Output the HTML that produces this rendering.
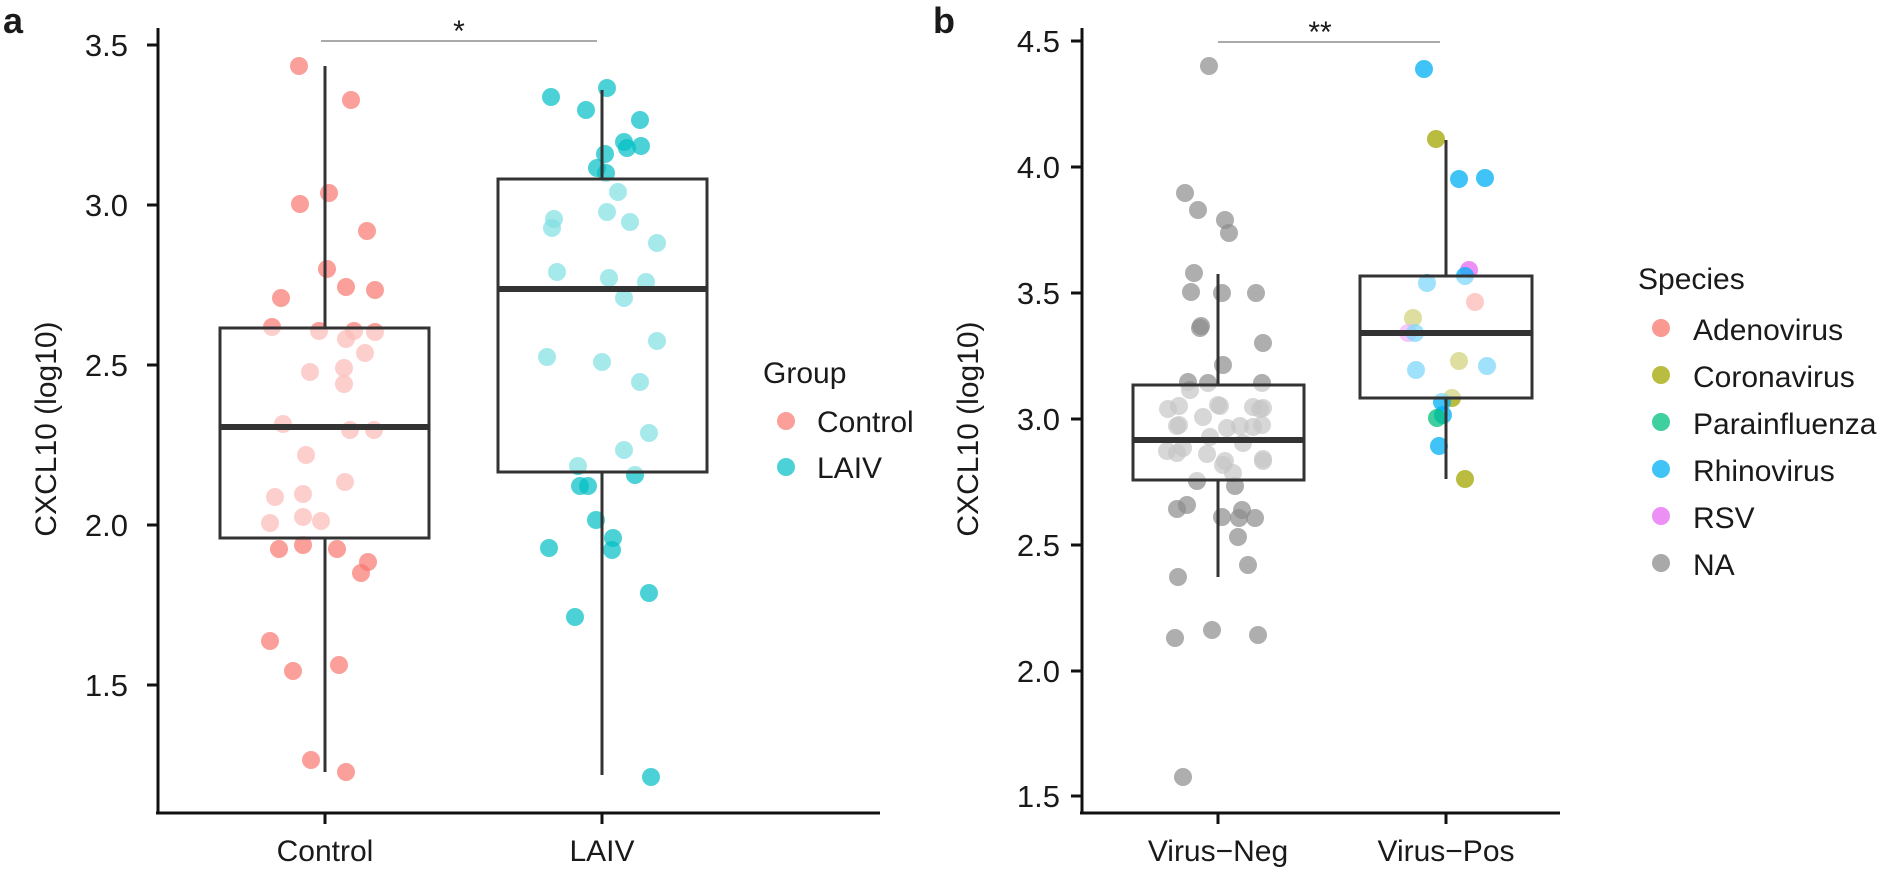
<!DOCTYPE html>
<html><head><meta charset="utf-8"><style>
html,body{margin:0;padding:0;background:#fff}
svg{display:block}
text{font-family:"Liberation Sans",Arial,sans-serif;fill:#1a1a1a}
</style></head><body>
<svg width="1897" height="878" viewBox="0 0 1897 878" xmlns="http://www.w3.org/2000/svg">
<!-- Panel a -->
<text x="3" y="33" font-size="36" font-weight="bold">a</text>
<g fill="#F8766D" fill-opacity="0.7">
<circle cx="299" cy="66" r="9"/><circle cx="351" cy="100" r="9"/><circle cx="329" cy="193" r="9"/><circle cx="300" cy="204" r="9"/><circle cx="367" cy="231" r="9"/><circle cx="327" cy="269" r="9"/><circle cx="346" cy="287" r="9"/><circle cx="375" cy="290" r="9"/><circle cx="281" cy="298" r="9"/><circle cx="272" cy="327" r="9"/><circle cx="319" cy="331" r="9"/><circle cx="354" cy="331" r="9"/><circle cx="375" cy="332" r="9"/><circle cx="346" cy="339" r="9"/><circle cx="365" cy="353" r="9"/><circle cx="310" cy="372" r="9"/><circle cx="344" cy="368" r="9"/><circle cx="344" cy="384" r="9"/><circle cx="283" cy="424" r="9"/><circle cx="350" cy="430" r="9"/><circle cx="374" cy="430" r="9"/><circle cx="306" cy="455" r="9"/><circle cx="345" cy="482" r="9"/><circle cx="275" cy="497" r="9"/><circle cx="303" cy="494" r="9"/><circle cx="303" cy="517" r="9"/><circle cx="270" cy="523" r="9"/><circle cx="321" cy="521" r="9"/><circle cx="279" cy="549" r="9"/><circle cx="303" cy="545" r="9"/><circle cx="337" cy="549" r="9"/><circle cx="368" cy="562" r="9"/><circle cx="361" cy="573" r="9"/><circle cx="270" cy="641" r="9"/><circle cx="293" cy="671" r="9"/><circle cx="339" cy="665" r="9"/><circle cx="311" cy="760" r="9"/><circle cx="346" cy="772" r="9"/>
</g>
<g fill="#00BFC4" fill-opacity="0.7">
<circle cx="551" cy="97" r="9"/><circle cx="607" cy="88" r="9"/><circle cx="586" cy="110" r="9"/><circle cx="640" cy="120" r="9"/><circle cx="624" cy="142" r="9"/><circle cx="627" cy="148" r="9"/><circle cx="641" cy="146" r="9"/><circle cx="605" cy="154" r="9"/><circle cx="597" cy="168" r="9"/><circle cx="606" cy="173" r="9"/><circle cx="618" cy="192" r="9"/><circle cx="607" cy="212" r="9"/><circle cx="554" cy="219" r="9"/><circle cx="552" cy="228" r="9"/><circle cx="630" cy="222" r="9"/><circle cx="657" cy="243" r="9"/><circle cx="557" cy="272" r="9"/><circle cx="609" cy="278" r="9"/><circle cx="646" cy="282" r="9"/><circle cx="624" cy="298" r="9"/><circle cx="657" cy="341" r="9"/><circle cx="547" cy="357" r="9"/><circle cx="602" cy="362" r="9"/><circle cx="640" cy="382" r="9"/><circle cx="649" cy="433" r="9"/><circle cx="624" cy="450" r="9"/><circle cx="578" cy="466" r="9"/><circle cx="635" cy="475" r="9"/><circle cx="580" cy="486" r="9"/><circle cx="588" cy="486" r="9"/><circle cx="596" cy="520" r="9"/><circle cx="613" cy="538" r="9"/><circle cx="612" cy="550" r="9"/><circle cx="549" cy="548" r="9"/><circle cx="649" cy="593" r="9"/><circle cx="575" cy="617" r="9"/><circle cx="651" cy="777" r="9"/>
</g>
<g stroke="#333" stroke-width="3" fill="#fff" fill-opacity="0.5">
<line x1="325" y1="66" x2="325" y2="328"/><line x1="325" y1="538" x2="325" y2="772"/>
<rect x="220" y="328" width="209" height="210"/>
<line x1="602" y1="90" x2="602" y2="179"/><line x1="602" y1="472" x2="602" y2="775"/>
<rect x="498" y="179" width="209" height="293"/>
</g>
<line x1="220" y1="427" x2="429" y2="427" stroke="#333" stroke-width="6"/>
<line x1="498" y1="289" x2="707" y2="289" stroke="#333" stroke-width="6"/>
<line x1="321" y1="41" x2="597" y2="41" stroke="#777" stroke-width="1.2"/>
<text x="459" y="41" font-size="30" text-anchor="middle">*</text>
<g stroke="#111" stroke-width="3">
<line x1="158" y1="28" x2="158" y2="814"/><line x1="156" y1="813" x2="880" y2="813"/>
<line x1="147" y1="45" x2="158" y2="45"/><line x1="147" y1="205" x2="158" y2="205"/><line x1="147" y1="365" x2="158" y2="365"/><line x1="147" y1="525" x2="158" y2="525"/><line x1="147" y1="685" x2="158" y2="685"/>
<line x1="325" y1="813" x2="325" y2="824"/><line x1="602" y1="813" x2="602" y2="824"/>
</g>
<g font-size="31" text-anchor="end">
<text x="128" y="56">3.5</text><text x="128" y="216">3.0</text><text x="128" y="376">2.5</text><text x="128" y="536">2.0</text><text x="128" y="696">1.5</text>
</g>
<g font-size="30" text-anchor="middle">
<text x="325" y="861">Control</text><text x="602" y="861">LAIV</text>
</g>
<text transform="translate(56,429) rotate(-90)" font-size="30" text-anchor="middle">CXCL10 (log10)</text>
<text x="763" y="383" font-size="30">Group</text>
<circle cx="786" cy="421" r="9" fill="#F8766D" fill-opacity="0.7"/><text x="817" y="432" font-size="30">Control</text>
<circle cx="786" cy="467" r="9" fill="#00BFC4" fill-opacity="0.7"/><text x="817" y="478" font-size="30">LAIV</text>

<!-- Panel b -->
<text x="933" y="33" font-size="36" font-weight="bold">b</text>
<g fill="#8c8c8c" fill-opacity="0.7">
<circle cx="1209" cy="66" r="9"/><circle cx="1185" cy="193" r="9"/><circle cx="1198" cy="210" r="9"/><circle cx="1225" cy="220" r="9"/><circle cx="1229" cy="233" r="9"/><circle cx="1194" cy="273" r="9"/><circle cx="1191" cy="292" r="9"/><circle cx="1222" cy="293" r="9"/><circle cx="1256" cy="293" r="9"/><circle cx="1200" cy="328" r="9"/><circle cx="1201" cy="326" r="9"/><circle cx="1263" cy="343" r="9"/><circle cx="1223" cy="365" r="9"/><circle cx="1188" cy="382" r="9"/><circle cx="1208" cy="383" r="9"/><circle cx="1262" cy="383" r="9"/>
<circle cx="1179" cy="406" r="9"/><circle cx="1190" cy="390" r="9"/><circle cx="1218" cy="405" r="9"/><circle cx="1253" cy="407" r="9"/><circle cx="1263" cy="408" r="9"/><circle cx="1203" cy="417" r="9"/><circle cx="1179" cy="425" r="9"/><circle cx="1227" cy="428" r="9"/><circle cx="1253" cy="427" r="9"/><circle cx="1262" cy="425" r="9"/>
<circle cx="1168" cy="409" r="9"/><circle cx="1177" cy="426" r="9"/><circle cx="1220" cy="406" r="9"/><circle cx="1240" cy="426" r="9"/><circle cx="1260" cy="409" r="9"/><circle cx="1183" cy="448" r="9"/><circle cx="1207" cy="454" r="9"/><circle cx="1223" cy="465" r="9"/><circle cx="1243" cy="443" r="9"/><circle cx="1263" cy="459" r="9"/><circle cx="1167" cy="451" r="9"/><circle cx="1210" cy="437" r="9"/>
<circle cx="1177" cy="453" r="9"/><circle cx="1225" cy="461" r="9"/><circle cx="1263" cy="461" r="9"/><circle cx="1233" cy="473" r="9"/><circle cx="1197" cy="481" r="9"/><circle cx="1235" cy="486" r="9"/><circle cx="1177" cy="509" r="9"/><circle cx="1187" cy="505" r="9"/><circle cx="1222" cy="517" r="9"/><circle cx="1242" cy="510" r="9"/><circle cx="1239" cy="518" r="9"/><circle cx="1255" cy="518" r="9"/><circle cx="1238" cy="537" r="9"/><circle cx="1248" cy="565" r="9"/><circle cx="1178" cy="577" r="9"/><circle cx="1175" cy="638" r="9"/><circle cx="1212" cy="630" r="9"/><circle cx="1258" cy="635" r="9"/><circle cx="1183" cy="777" r="9"/>
</g>
<g fill-opacity="0.75">
<circle cx="1424" cy="69" r="9" fill="#00B0F6"/><circle cx="1436" cy="139" r="9" fill="#A3A500"/><circle cx="1459" cy="179" r="9" fill="#00B0F6"/><circle cx="1485" cy="178" r="9" fill="#00B0F6"/>
<circle cx="1469" cy="270" r="9" fill="#E76BF3"/><circle cx="1465" cy="276" r="9" fill="#00B0F6"/><circle cx="1427" cy="283" r="9" fill="#00B0F6"/><circle cx="1475" cy="302" r="9" fill="#F8766D"/><circle cx="1413" cy="318" r="9" fill="#A3A500"/><circle cx="1408" cy="333" r="9" fill="#E76BF3"/><circle cx="1415" cy="333" r="9" fill="#00B0F6"/><circle cx="1459" cy="361" r="9" fill="#A3A500"/><circle cx="1416" cy="370" r="9" fill="#00B0F6"/><circle cx="1487" cy="366" r="9" fill="#00B0F6"/>
<circle cx="1452" cy="398" r="9" fill="#A3A500"/><circle cx="1442" cy="402" r="9" fill="#00B0F6"/><circle cx="1443" cy="415" r="9" fill="#00B0F6"/><circle cx="1437" cy="418" r="9" fill="#00BF7D"/><circle cx="1439" cy="446" r="9" fill="#00B0F6"/><circle cx="1465" cy="479" r="9" fill="#A3A500"/>
</g>
<g stroke="#333" stroke-width="3" fill="#fff" fill-opacity="0.5">
<line x1="1218" y1="274" x2="1218" y2="385"/><line x1="1218" y1="480" x2="1218" y2="577"/>
<rect x="1133" y="385" width="171" height="95"/>
<line x1="1446" y1="140" x2="1446" y2="276"/><line x1="1446" y1="398" x2="1446" y2="479"/>
<rect x="1360" y="276" width="172" height="122"/>
</g>
<line x1="1133" y1="440" x2="1304" y2="440" stroke="#333" stroke-width="6"/>
<line x1="1360" y1="333" x2="1532" y2="333" stroke="#333" stroke-width="6"/>
<line x1="1218" y1="42" x2="1440" y2="42" stroke="#777" stroke-width="1.2"/>
<text x="1320" y="42" font-size="30" text-anchor="middle">**</text>
<g stroke="#111" stroke-width="3">
<line x1="1082" y1="28" x2="1082" y2="814"/><line x1="1080" y1="813" x2="1560" y2="813"/>
<line x1="1071" y1="41" x2="1082" y2="41"/><line x1="1071" y1="167" x2="1082" y2="167"/><line x1="1071" y1="293" x2="1082" y2="293"/><line x1="1071" y1="419" x2="1082" y2="419"/><line x1="1071" y1="545" x2="1082" y2="545"/><line x1="1071" y1="671" x2="1082" y2="671"/><line x1="1071" y1="796" x2="1082" y2="796"/>
</g>
<g stroke="#111" stroke-width="3">
<line x1="1218" y1="813" x2="1218" y2="824"/><line x1="1446" y1="813" x2="1446" y2="824"/>
</g>
<g font-size="31" text-anchor="end">
<text x="1060" y="52">4.5</text><text x="1060" y="178">4.0</text><text x="1060" y="304">3.5</text><text x="1060" y="430">3.0</text><text x="1060" y="556">2.5</text><text x="1060" y="682">2.0</text><text x="1060" y="807">1.5</text>
</g>
<g font-size="30" text-anchor="middle">
<text x="1218" y="861">Virus−Neg</text><text x="1446" y="861">Virus−Pos</text>
</g>
<text transform="translate(978,429) rotate(-90)" font-size="30" text-anchor="middle">CXCL10 (log10)</text>
<text x="1638" y="289" font-size="30">Species</text>
<g font-size="30">
<circle cx="1661" cy="328" r="9" fill="#F8766D" fill-opacity="0.75"/><text x="1693" y="340">Adenovirus</text>
<circle cx="1661" cy="375" r="9" fill="#A3A500" fill-opacity="0.75"/><text x="1693" y="387">Coronavirus</text>
<circle cx="1661" cy="422" r="9" fill="#00BF7D" fill-opacity="0.75"/><text x="1693" y="434">Parainfluenza</text>
<circle cx="1661" cy="469" r="9" fill="#00B0F6" fill-opacity="0.75"/><text x="1693" y="481">Rhinovirus</text>
<circle cx="1661" cy="516" r="9" fill="#E76BF3" fill-opacity="0.75"/><text x="1693" y="528">RSV</text>
<circle cx="1661" cy="563" r="9" fill="#8c8c8c" fill-opacity="0.75"/><text x="1693" y="575">NA</text>
</g>
</svg>
</body></html>
